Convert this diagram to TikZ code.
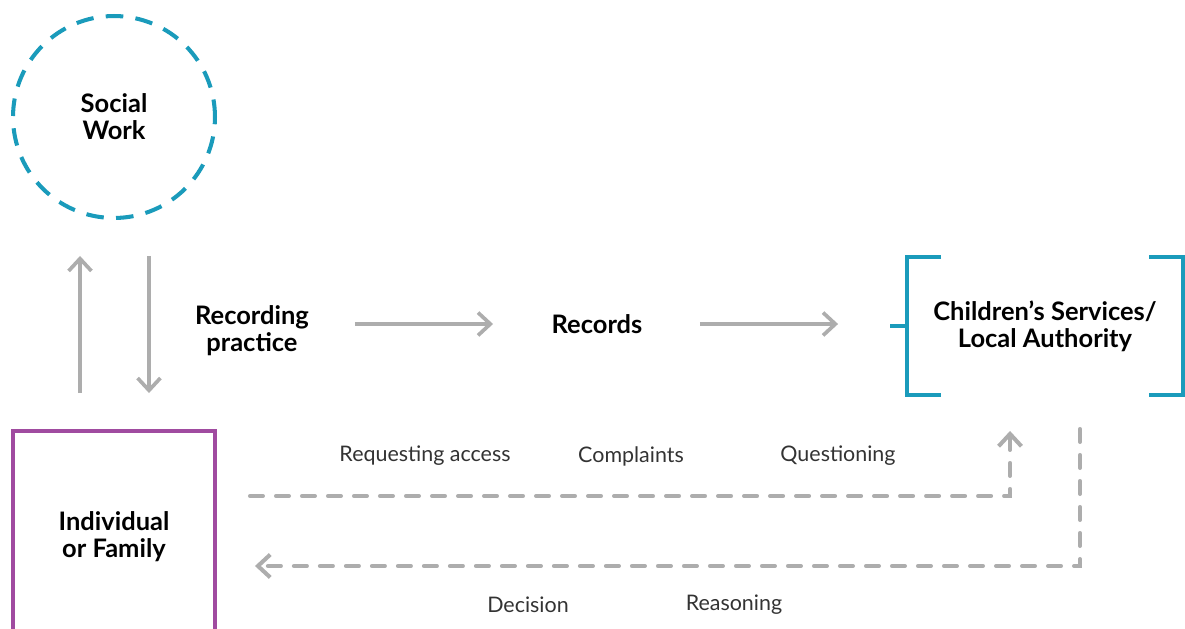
\documentclass[tikz,border=0pt]{standalone}
\usepackage{fontspec}
\setmainfont{Lato}
\usetikzlibrary{arrows.meta,calc}
\definecolor{swteal}{HTML}{1A9BBB}
\definecolor{fampurple}{HTML}{A04BA0}
\definecolor{flowgray}{HTML}{ADADAD}

\begin{document}
\begin{tikzpicture}[x=0.02cm,y=-0.02cm,
  title/.style={font=\bfseries\fontsize{14.5}{15.5}\selectfont,align=center,inner sep=0pt,outer sep=0pt},
  tag/.style={font=\fontsize{12.2}{15}\selectfont,text=black!80},
  bracket/.style={draw=swteal,line width=2.3pt},
  flow/.style={draw=flowgray,line width=2.1pt,-{Straight Barb[length=7pt,width=13pt]}},
  back/.style={flow,line width=2.3pt,line cap=round,dash pattern=on 7.4pt off 7.4pt}]
\useasboundingbox (0,0) rectangle (1185,628);
  \node[title,circle,draw=swteal,line width=2.3pt,dash pattern=on 10pt off 7pt,minimum size=4.04cm] (sw) at (114,117) {Social\\Work};
  \node[title,draw=fampurple,line width=2.3pt,minimum width=4.04cm,minimum height=4.24cm] (fam) at (114,537) {Individual\\or Family};
  \node[title] (rec) at (252,331) {Recording\\practice};
  \node[title] (records) at (597,324) {Records};
  \node[title,minimum width=5.52cm,minimum height=2.76cm] (csla) at (1045,326) {Children's Services/\\Local Authority};
%  brackets round the authority
  \draw[bracket] ([xshift=0.68cm]csla.north west) -- (csla.north west) -- (csla.south west) -- ++(34,0);
  \draw[bracket] ([xshift=-0.68cm]csla.north east) -- (csla.north east) -- (csla.south east) -- ++(-34,0);
  \draw[bracket] (csla.west) -- ++(-17,0);
  \draw[flow,shorten <=0.76cm,shorten >=0.76cm] ([xshift=-0.68cm]fam.north) -- ([xshift=-0.68cm]sw.south);
  \draw[flow,shorten <=0.76cm,shorten >=0.76cm] ([xshift=0.7cm]sw.south) -- ([xshift=0.7cm]fam.north);
  \draw[flow,shorten <=2.06cm,shorten >=2.08cm] (rec.center |- records.center) -- (records.center);
  \draw[flow,shorten <=2.06cm,shorten >=1.38cm] (records.center) -- (records.center -| csla.west);
  \draw[back,shorten <=0.7cm,shorten >=0.72cm] ([yshift=0.82cm]fam.east) -| ([xshift=-0.7cm]csla.south);
  \draw[back,shorten <=0.68cm,shorten >=0.8cm] ([xshift=0.7cm]csla.south) |- ([yshift=-0.58cm]fam.east);
  \node[tag] (req) at (425,456) {Requesting access};
  \node[tag] (compl) at (631,456) {Complaints};
  \node[tag] (quest) at (838,456) {Questioning};
  \node[tag] (dec) at (528,605) {Decision};
  \node[tag] (reas) at (734,605) {Reasoning};
\end{tikzpicture}
\end{document}
